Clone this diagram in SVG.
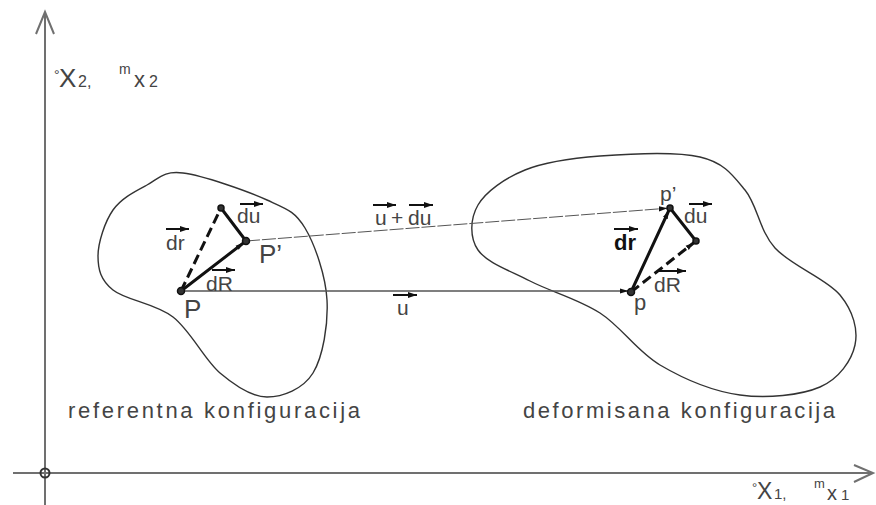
<svg xmlns="http://www.w3.org/2000/svg" width="876" height="505" viewBox="0 0 876 505">
<style>
.ax{stroke:#707070;stroke-width:2;fill:none}
.blob{stroke:#333;stroke-width:1.4;fill:none}
.thick{stroke:#111;stroke-width:3;fill:none;stroke-linecap:round}
.dash{stroke-dasharray:10 5;stroke-linecap:butt}
.thin{stroke:#555;stroke-width:1.5;fill:none}
.thind{stroke:#555;stroke-width:1;fill:none;stroke-dasharray:14 2}
.va{stroke:#111;stroke-width:2;fill:none}
.pt{fill:#333;stroke:#111;stroke-width:1.5}
text{font-family:"Liberation Sans",Arial,sans-serif;fill:#444}
.lb{font-size:21px}
.big{font-size:26px}
</style>
<defs>
<marker id="ah" markerUnits="userSpaceOnUse" markerWidth="12" markerHeight="8" refX="13" refY="3" orient="auto" viewBox="0 0 14 6">
<path d="M0,0 L10,3 L0,6 z" fill="#111"/>
</marker>
<marker id="vh" markerUnits="userSpaceOnUse" markerWidth="10" markerHeight="6" refX="9" refY="3" orient="auto" viewBox="0 0 9 6">
<path d="M0,0 L9,3 L0,6 z" fill="#111"/>
</marker>
</defs>

<g id="axes">
<line class="ax" x1="45" y1="12" x2="45" y2="505"/>
<polyline class="ax" points="36,34 45,12 54,34" stroke="#222"/>
<line class="ax" x1="13" y1="473" x2="873" y2="473"/>
<polyline class="ax" points="854,465 873,473 854,482" stroke="#222"/>
<circle cx="45" cy="473" r="4.5" fill="none" stroke="#333" stroke-width="2"/>
</g>

<g id="axis-labels">
<text x="54" y="80" style="font-size:14px">°</text>
<text x="59" y="87" style="font-size:26px">X</text>
<text x="78" y="87" style="font-size:16px">2,</text>
<text x="119" y="74" style="font-size:14px">m</text>
<text x="134" y="87" style="font-size:22px">x</text>
<text x="149" y="87" style="font-size:16px">2</text>
<text x="752" y="492" style="font-size:13px">°</text>
<text x="757" y="499" style="font-size:23px">X</text>
<text x="774" y="499" style="font-size:15px">1,</text>
<text x="814" y="488" style="font-size:13px">m</text>
<text x="827" y="500" style="font-size:20px">x</text>
<text x="841" y="500" style="font-size:15px">1</text>
</g>

<g id="ref-config">
<path class="blob" d="M183,173 C203,175.5 246.7,190.8 267,200 C287.3,209.2 295,211.3 305,228 C315,244.7 325.7,275.8 327,300 C328.3,324.2 323,356.8 313,373 C303,389.2 282.5,397 267,397 C251.5,397 235.7,386.3 220,373 C204.3,359.7 190.8,330.8 173,317 C155.2,303.2 125.5,300.2 113,290 C100.5,279.8 98,269.3 98,256 C98,242.7 104.8,221.8 113,210 C121.2,198.2 135.3,191.2 147,185 C158.7,178.8 163,170.5 183,173 Z"/>
<text x="68" y="418" style="font-size:22px" textLength="292" lengthAdjust="spacing">referentna konfiguracija</text>
</g>

<g id="def-config">
<path class="blob" d="M600,156 C629.2,153.8 675.8,151.3 700,157 C724.2,162.7 732.5,174.8 745,190 C757.5,205.2 759.2,230.5 775,248 C790.8,265.5 826.7,278.8 840,295 C853.3,311.2 858.3,329.7 855,345 C851.7,360.3 839.2,378.7 820,387 C800.8,395.3 766.7,398.7 740,395 C713.3,391.3 683.3,378.7 660,365 C636.7,351.3 621.7,327 600,313 C578.3,299 550.3,291.5 530,281 C509.7,270.5 486.7,262.7 478,250 C469.3,237.3 470.2,218.3 478,205 C485.8,191.7 504.7,178.2 525,170 C545.3,161.8 570.8,158.2 600,156 Z"/>
<text x="523" y="418" style="font-size:22px" textLength="312" lengthAdjust="spacing">deformisana konfiguracija</text>
</g>

<g id="connectors">
<line class="thin" x1="181" y1="291" x2="631" y2="291" marker-end="url(#ah)"/>
<line class="thind" x1="246" y1="241" x2="670" y2="208" marker-end="url(#ah)"/>
<line class="thick dash" x1="181" y1="291" x2="221" y2="208"/>
<line class="thick" x1="221" y1="208" x2="246" y2="241"/>
<line class="thick" x1="181" y1="291" x2="246" y2="241" marker-end="url(#ah)"/>
<line class="thick" x1="631" y1="292" x2="670" y2="208" marker-end="url(#ah)"/>
<line class="thick" x1="670" y1="208" x2="696" y2="241"/>
<line class="thick dash" x1="631" y1="292" x2="696" y2="241" marker-end="url(#ah)"/>
</g>

<g id="node-P"><circle class="pt" cx="181" cy="291" r="3.5"/><text class="big" x="184" y="318">P</text></g>
<g id="node-Pprime"><circle class="pt" cx="246" cy="241" r="3.5"/><text class="big" x="259" y="263">P’</text></g>
<g id="node-Ptop"><circle class="pt" cx="221" cy="208" r="3"/></g>
<g id="node-p"><circle class="pt" cx="631" cy="292" r="3.5"/><text style="font-size:22px" x="634" y="310">p</text></g>
<g id="node-pprime"><circle class="pt" cx="670" cy="208" r="3"/><text style="font-size:21px" x="660" y="201">p’</text></g>
<g id="node-pright"><circle class="pt" cx="696" cy="241" r="3"/></g>

<g id="vector-labels">
<text class="lb" x="166" y="250">dr</text>
<line class="va" x1="166" y1="229" x2="189" y2="229" marker-end="url(#vh)"/>
<text class="lb" x="237" y="223">du</text>
<line class="va" x1="240" y1="204" x2="263" y2="204" marker-end="url(#vh)"/>
<text class="lb" x="206" y="291">dR</text>
<line class="va" x1="212" y1="270" x2="235" y2="270" marker-end="url(#vh)"/>
<text class="lb" y="225"><tspan x="375">u</tspan><tspan x="391">+</tspan><tspan x="408">du</tspan></text>
<line class="va" x1="373" y1="205" x2="396" y2="205" marker-end="url(#vh)"/>
<line class="va" x1="409" y1="205" x2="433" y2="205" marker-end="url(#vh)"/>
<text class="lb" x="397" y="315">u</text>
<line class="va" x1="393" y1="295" x2="417" y2="295" marker-end="url(#vh)"/>
<text class="lb" x="684" y="223">du</text>
<line class="va" x1="689" y1="204" x2="712" y2="204" marker-end="url(#vh)"/>
<text x="614" y="250" style="font-size:22px;font-weight:bold;fill:#111">dr</text>
<line class="va" x1="614" y1="229" x2="638" y2="229" marker-end="url(#vh)"/>
<text class="lb" x="654" y="292">dR</text>
<line class="va" x1="659" y1="271" x2="686" y2="271" marker-end="url(#vh)"/>
</g>
</svg>
